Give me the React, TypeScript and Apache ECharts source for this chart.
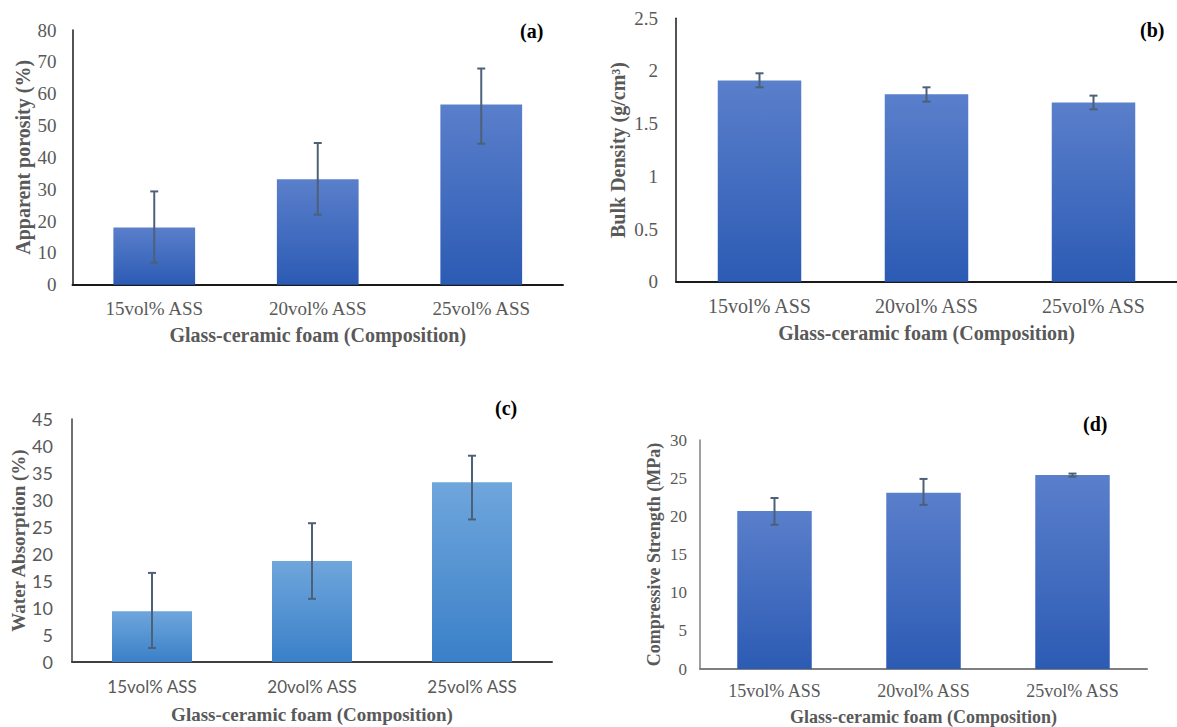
import React, { useEffect, useRef } from "react";
import * as echarts from "echarts";

const categories = ["15vol% ASS", "20vol% ASS", "25vol% ASS"];

const porosity = [18.0, 33.1, 56.6];
const porosityLow = [6.9, 22.0, 44.3];
const porosityHigh = [29.3, 44.5, 67.9];

const density = [1.91, 1.78, 1.7];
const densityLow = [1.845, 1.709, 1.636];
const densityHigh = [1.978, 1.845, 1.766];

const absorption = [9.4, 18.7, 33.3];
const absorptionLow = [2.6, 11.7, 26.4];
const absorptionHigh = [16.5, 25.7, 38.2];

const strength = [20.7, 23.1, 25.4];
const strengthLow = [18.9, 21.5, 25.2];
const strengthHigh = [22.4, 24.9, 25.6];

const SERIF = "'Liberation Serif', 'Times New Roman', serif";
const SANS = "Lato, 'Open Sans', sans-serif";

const darkGrad = () =>
  new echarts.graphic.LinearGradient(0, 0, 0, 1, [
    { offset: 0, color: "#5a7fcb" },
    { offset: 1, color: "#2c5bb4" },
  ]);
const lightGrad = () =>
  new echarts.graphic.LinearGradient(0, 0, 0, 1, [
    { offset: 0, color: "#6fa6dc" },
    { offset: 1, color: "#3a80c8" },
  ]);

function errSeries(idx: number, low: number[], high: number[]) {
  return {
    type: "custom",
    xAxisIndex: idx,
    yAxisIndex: idx,
    z: 5,
    silent: true,
    encode: { x: 0, y: [1, 2] },
    data: categories.map((_, i) => [i, low[i], high[i]]),
    renderItem: (params: any, api: any) => {
      const x = api.value(0);
      const lo = api.coord([x, api.value(1)]);
      const hi = api.coord([x, api.value(2)]);
      const cap = 4;
      const style = { stroke: "#4d6079", lineWidth: 2 };
      return {
        type: "group",
        children: [
          { type: "line", shape: { x1: hi[0], y1: hi[1], x2: lo[0], y2: lo[1] }, style },
          { type: "line", shape: { x1: hi[0] - cap, y1: hi[1], x2: hi[0] + cap, y2: hi[1] }, style },
          { type: "line", shape: { x1: lo[0] - cap, y1: lo[1], x2: lo[0] + cap, y2: lo[1] }, style },
        ],
      };
    },
  };
}

function barSeries(idx: number, data: number[], grad: any) {
  return {
    type: "bar",
    xAxisIndex: idx,
    yAxisIndex: idx,
    data,
    barWidth: "50%",
    itemStyle: { color: grad },
  };
}

interface PanelCfg {
  font: string;
  tickSize: number;
  catSize: number;
  titleSize: number;
  axisColor: string;
  labelMargin: number;
  catMargin: number;
  xGap: number;
  yGap: number;
  yTitle: string;
  max: number;
  interval: number;
}

function axes(idx: number, c: PanelCfg) {
  const xAxis = {
    type: "category",
    gridIndex: idx,
    data: categories,
    axisTick: { show: false },
    axisLine: { show: true, lineStyle: { color: c.axisColor, width: 2 } },
    axisLabel: {
      color: "#595959",
      fontFamily: c.font,
      fontSize: c.catSize,
      margin: c.catMargin,
    },
    name: "Glass-ceramic foam (Composition)",
    nameLocation: "middle",
    nameGap: c.xGap,
    nameTextStyle: {
      color: "#595959",
      fontFamily: SERIF,
      fontWeight: "bold",
      fontSize: c.titleSize,
    },
  };
  const yAxis = {
    type: "value",
    gridIndex: idx,
    min: 0,
    max: c.max,
    interval: c.interval,
    splitLine: { show: false },
    axisTick: { show: false },
    axisLine: { show: true, lineStyle: { color: c.axisColor, width: 1.5 } },
    axisLabel: {
      color: "#595959",
      fontFamily: c.font,
      fontSize: c.tickSize,
      margin: c.labelMargin,
    },
    name: c.yTitle,
    nameLocation: "middle",
    nameRotate: 90,
    nameGap: c.yGap,
    nameTextStyle: {
      color: "#595959",
      fontFamily: SERIF,
      fontWeight: "bold",
      fontSize: c.titleSize,
    },
  };
  return { xAxis, yAxis };
}

export default function App() {
  const ref = useRef<HTMLDivElement>(null);
  useEffect(() => {
    if (!ref.current) return;
    const chart = echarts.init(ref.current, undefined, { renderer: "svg" });
    const cfgs: PanelCfg[] = [
      {
        font: SERIF, tickSize: 19, catSize: 19, titleSize: 20, axisColor: "#1a1a1a",
        labelMargin: 16, catMargin: 14, xGap: 40, yGap: 40,
        yTitle: "Apparent porosity (%)", max: 80, interval: 10,
      },
      {
        font: SERIF, tickSize: 19, catSize: 20, titleSize: 20, axisColor: "#1a1a1a",
        labelMargin: 18, catMargin: 14, xGap: 41, yGap: 48,
        yTitle: "Bulk Density (g/cm³)", max: 2.5, interval: 0.5,
      },
      {
        font: SANS, tickSize: 18, catSize: 17, titleSize: 19, axisColor: "#404040",
        labelMargin: 19, catMargin: 16, xGap: 43, yGap: 42,
        yTitle: "Water Absorption (%)", max: 45, interval: 5,
      },
      {
        font: SERIF, tickSize: 17, catSize: 18, titleSize: 18, axisColor: "#7f7f7f",
        labelMargin: 13, catMargin: 13, xGap: 39, yGap: 37,
        yTitle: "Compressive Strength (MPa)", max: 30, interval: 5,
      },
    ];
    const ax = cfgs.map((c, i) => axes(i, c));
    chart.setOption({
      animation: false,
      backgroundColor: "#ffffff",
      grid: [
        { left: 72.5, top: 30, width: 490.5, height: 254.7 },
        { left: 676, top: 18.3, width: 504, height: 263.4 },
        { left: 72, top: 419, width: 480, height: 243 },
        { left: 700, top: 440, width: 447, height: 230 },
      ],
      xAxis: ax.map((a) => a.xAxis),
      yAxis: ax.map((a) => a.yAxis),
      series: [
        barSeries(0, porosity, darkGrad()),
        errSeries(0, porosityLow, porosityHigh),
        barSeries(1, density, darkGrad()),
        errSeries(1, densityLow, densityHigh),
        barSeries(2, absorption, lightGrad()),
        errSeries(2, absorptionLow, absorptionHigh),
        barSeries(3, strength, darkGrad()),
        errSeries(3, strengthLow, strengthHigh),
      ],
      graphic: [
        { type: "text", left: 520, top: 21, style: { text: "(a)", font: `bold 20px ${SERIF}`, fill: "#000" } },
        { type: "text", left: 1140, top: 20, style: { text: "(b)", font: `bold 20px ${SERIF}`, fill: "#000" } },
        { type: "text", left: 495, top: 398, style: { text: "(c)", font: `bold 20px ${SERIF}`, fill: "#000" } },
        { type: "text", left: 1083, top: 414, style: { text: "(d)", font: `bold 20px ${SERIF}`, fill: "#000" } },
      ],
    });
    return () => chart.dispose();
  }, []);
  return (
    <div
      ref={ref}
      style={{ position: "fixed", left: 0, top: 0, width: 1177, height: 727, background: "#fff" }}
    />
  );
}
